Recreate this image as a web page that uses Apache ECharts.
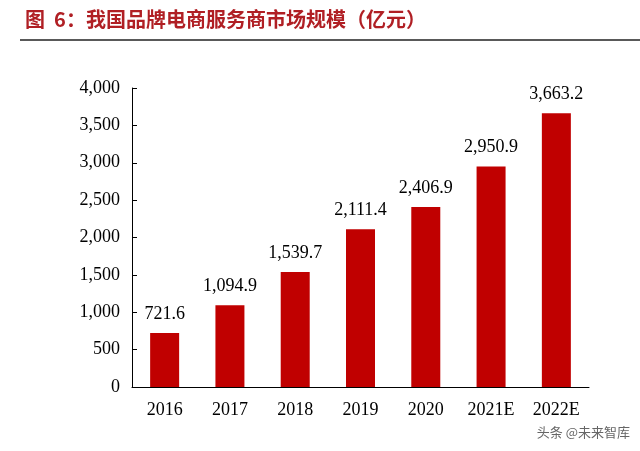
<!DOCTYPE html><html><head><meta charset="utf-8"><script src="https://cdn.jsdelivr.net/npm/echarts@6/dist/echarts.min.js"></script></head><body style="margin:0;background:#fff"><div id="c" style="width:640px;height:451px"></div><script>
const categories=['2016','2017','2018','2019','2020','2021E','2022E'];
const values=[721.6,1094.9,1539.7,2111.4,2406.9,2950.9,3663.2];
const c=echarts.init(document.getElementById('c'));
const f='"Liberation Serif","Times New Roman",serif';
c.setOption({animation:false,
title:{text:'图  6：我国品牌电商服务商市场规模（亿元）',left:20,top:4,textStyle:{color:'#B01F24',fontSize:20,fontWeight:'bold',fontFamily:'"Noto Sans CJK SC"'}},
graphic:[{type:'line',shape:{x1:20,y1:40,x2:640,y2:40},style:{stroke:'#222',lineWidth:1.5}},
{type:'text',right:10,bottom:12,style:{text:'头条 @未来智库',fill:'#666',font:'13px "Noto Sans CJK SC"'}}],
grid:{left:132,right:51,top:88,bottom:64},
xAxis:{type:'category',data:categories,axisLine:{lineStyle:{color:'#000'}},axisTick:{inside:true,length:5,lineStyle:{color:'#000'}},axisLabel:{color:'#000',fontSize:18,fontFamily:f,margin:14}},
yAxis:{type:'value',min:0,max:4000,interval:500,splitLine:{show:false},axisLine:{show:true,lineStyle:{color:'#000'}},axisTick:{show:true,inside:true,length:5,lineStyle:{color:'#000'}},axisLabel:{color:'#000',fontSize:18,fontFamily:f,margin:12,formatter:v=>v.toLocaleString('en-US')}},
series:[{type:'bar',data:values,barWidth:29,itemStyle:{color:'#C00000'},label:{show:true,position:'top',distance:10,color:'#000',fontSize:18,fontFamily:f,formatter:p=>p.value.toLocaleString('en-US',{minimumFractionDigits:1})}}]});
</script></body></html>
